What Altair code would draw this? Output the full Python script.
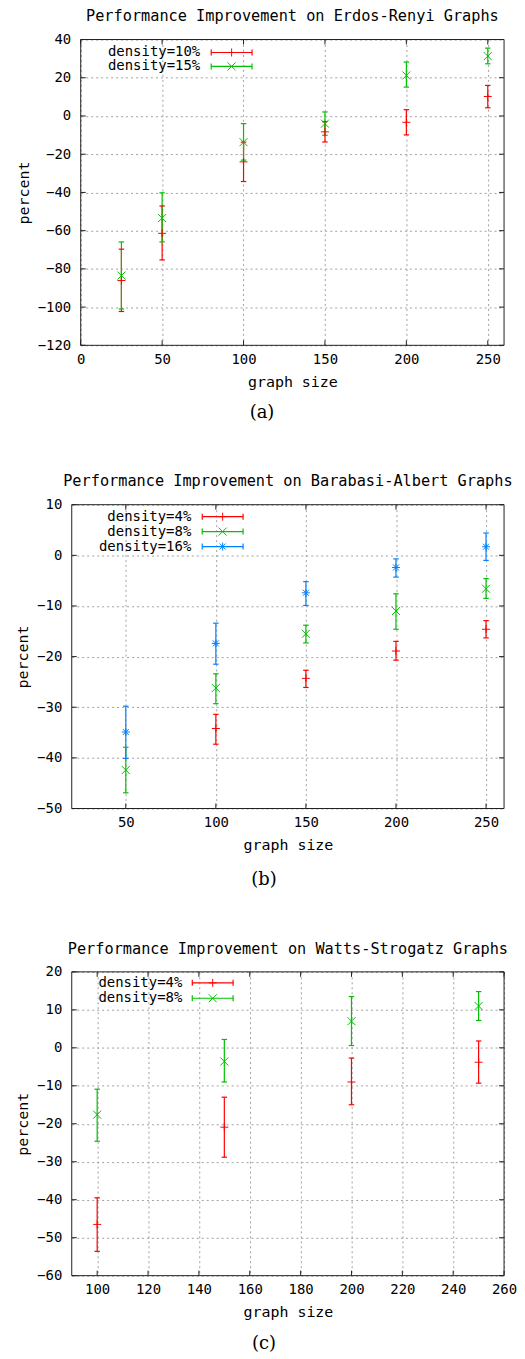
import altair as alt
import pandas as pd

MONO = "DejaVu Sans Mono"
SERIF = "DejaVu Serif"
RED, GREEN, BLUE = "#ff0000", "#00c000", "#0080ff"
INK = "#202020"

PLUS = "M-1,0L1,0M0,-1L0,1"
CROSS = "M-1,-1L1,1M-1,1L1,-1"
STAR = PLUS + "M-0.75,-0.75L0.75,0.75M-0.75,0.75L0.75,-0.75"
CAP = "M-1,0L1,0"

# ---------- (a) Erdos-Renyi ----------
ER_TITLE = "Performance Improvement on Erdos-Renyi Graphs"
ER_SERIES = ["density=10%", "density=15%"]
ER_SIZES = [25, 50, 100, 150, 200, 250]
ER_10_MEAN = [-86.1, -61.4, -24.0, -8.3, -3.3, 10.2]
ER_10_LO = [-102.3, -75.3, -34.3, -13.6, -9.9, 4.3]
ER_10_HI = [-69.7, -47.1, -13.7, -3.0, 3.3, 16.0]
ER_15_MEAN = [-83.5, -53.4, -13.7, -4.0, 21.2, 31.3]
ER_15_LO = [-101.0, -65.9, -23.1, -10.1, 15.1, 27.3]
ER_15_HI = [-65.9, -40.2, -4.0, 2.1, 28.2, 35.5]
ER_XTICKS = [0, 50, 100, 150, 200, 250]
ER_YTICKS = [-120, -100, -80, -60, -40, -20, 0, 20, 40]

# ---------- (b) Barabasi-Albert ----------
BA_TITLE = "Performance Improvement on Barabasi-Albert Graphs"
BA_SERIES = ["density=4%", "density=8%", "density=16%"]
BA_4_SIZES = [100, 150, 200, 250]
BA_4_MEAN = [-34.2, -24.3, -18.9, -14.6]
BA_4_LO = [-37.3, -26.1, -20.7, -16.3]
BA_4_HI = [-31.4, -22.7, -17.0, -12.9]
BA_SIZES = [50, 100, 150, 200, 250]
BA_8_MEAN = [-42.4, -26.2, -15.5, -11.0, -6.6]
BA_8_LO = [-46.9, -29.3, -17.3, -14.6, -8.5]
BA_8_HI = [-37.9, -23.4, -13.8, -7.6, -4.6]
BA_16_MEAN = [-34.9, -17.4, -7.4, -2.4, 1.7]
BA_16_LO = [-40.1, -21.5, -9.9, -4.3, -1.0]
BA_16_HI = [-29.8, -13.4, -5.2, -0.7, 4.4]
BA_XTICKS = [50, 100, 150, 200, 250]
BA_YTICKS = [-50, -40, -30, -20, -10, 0, 10]

# ---------- (c) Watts-Strogatz ----------
WS_TITLE = "Performance Improvement on Watts-Strogatz Graphs"
WS_SERIES = ["density=4%", "density=8%"]
WS_SIZES = [100, 150, 200, 250]
WS_4_MEAN = [-46.5, -20.9, -9.0, -3.8]
WS_4_LO = [-53.6, -28.8, -15.0, -9.3]
WS_4_HI = [-39.5, -13.0, -2.7, 1.8]
WS_8_MEAN = [-17.6, -3.6, 7.0, 11.0]
WS_8_LO = [-24.6, -9.0, 0.6, 7.2]
WS_8_HI = [-10.9, 2.2, 13.5, 14.8]
WS_XTICKS = [100, 120, 140, 160, 180, 200, 220, 240, 260]
WS_YTICKS = [-60, -50, -40, -30, -20, -10, 0, 10, 20]


def frame(series, sizes, means, los, his):
    rows = []
    for s, xs, m, lo, hi in zip(series, sizes, means, los, his):
        for a, b, c, d in zip(xs, m, lo, hi):
            rows.append({"series": s, "size": a, "mean": b, "lo": c, "hi": d})
    return pd.DataFrame(rows)


def panel(title, series, df, colors, shapes, xdom, xticks, ydom, yticks,
          width, height, leg, caption, cap_pos, ytitle_pad, shift=0.0):
    # shift: horizontal inset (px) of the plot frame inside the panel's own area
    xscale = alt.Scale(domain=xdom, nice=False, zero=False, range=[shift, shift + width])
    xaxis = alt.Axis(values=xticks, title="graph size", labelPadding=7,
                     titlePadding=8, format="d", labelOverlap=False, labelFlush=False)
    yscale = alt.Scale(domain=ydom, nice=False, zero=False)
    yaxis = alt.Axis(values=yticks, title="percent", labelPadding=10,
                     titlePadding=ytitle_pad, format="d", labelOverlap=False,
                     labelFlush=False, offset=-shift)
    col = alt.Color("series:N", scale=alt.Scale(domain=series, range=colors), legend=None)
    base = alt.Chart(df).encode(x=alt.X("size:Q", scale=xscale, axis=xaxis), color=col)
    bars = base.mark_rule(strokeWidth=1.2).encode(
        y=alt.Y("lo:Q", scale=yscale, axis=yaxis), y2="hi:Q")
    cap_lo = base.mark_point(shape=CAP, size=30, filled=False, opacity=1,
                             strokeWidth=1.2).encode(y=alt.Y("lo:Q", scale=yscale, axis=yaxis))
    cap_hi = base.mark_point(shape=CAP, size=30, filled=False, opacity=1,
                             strokeWidth=1.2).encode(y=alt.Y("hi:Q", scale=yscale, axis=yaxis))
    pts = base.mark_point(size=64, filled=False, opacity=1, strokeWidth=1).encode(
        y=alt.Y("mean:Q", scale=yscale, axis=yaxis),
        shape=alt.Shape("series:N", scale=alt.Scale(domain=series, range=shapes), legend=None))

    capdf = pd.DataFrame({"caption": [caption]})
    border = alt.Chart(capdf).mark_rect(filled=False, stroke=INK, strokeWidth=1).encode(
        x=alt.value(shift), x2=alt.value(shift + width), y=alt.value(0), y2=alt.value(height))

    # gnuplot-style inward tick marks on all four sides of the frame
    ydf = pd.DataFrame({"v": yticks})
    xdf = pd.DataFrame({"v": xticks})
    yt = alt.Chart(ydf)
    xt = alt.Chart(xdf)
    ticks = [
        yt.mark_rule(color=INK).encode(y=alt.Y("v:Q", scale=yscale, axis=yaxis),
                                       x=alt.value(shift), x2=alt.value(shift + 5)),
        yt.mark_rule(color=INK).encode(y=alt.Y("v:Q", scale=yscale, axis=yaxis),
                                       x=alt.value(shift + width - 5),
                                       x2=alt.value(shift + width)),
        xt.mark_rule(color=INK).encode(x=alt.X("v:Q", scale=xscale, axis=xaxis),
                                       y=alt.value(height - 5), y2=alt.value(height)),
        xt.mark_rule(color=INK).encode(x=alt.X("v:Q", scale=xscale, axis=xaxis),
                                       y=alt.value(0), y2=alt.value(5)),
    ]
    layers = [border] + ticks + [bars, cap_lo, cap_hi, pts]

    ld = pd.DataFrame({"series": series, "label": series})
    tx, l0, l1, y0, dy = leg
    tx, l0, l1 = tx + shift, l0 + shift, l1 + shift
    for i, (s, c, sh) in enumerate(zip(series, colors, shapes)):
        ry = y0 + i * dy
        src = alt.Chart(ld).transform_filter(alt.datum.series == s)
        layers.append(src.mark_text(align="right", baseline="middle", font=MONO,
                                    fontSize=14, color="black").encode(
            x=alt.value(tx), y=alt.value(ry), text="label:N"))
        layers.append(src.mark_rule(color=c, strokeWidth=1.2).encode(
            x=alt.value(l0), x2=alt.value(l1), y=alt.value(ry)))
        for lx in (l0, l1):
            layers.append(src.mark_rule(color=c, strokeWidth=1.2).encode(
                x=alt.value(lx), y=alt.value(ry - 3), y2=alt.value(ry + 3)))
        layers.append(src.mark_point(shape=sh, size=64, filled=False, opacity=1,
                                     color=c, strokeWidth=1).encode(
            x=alt.value((l0 + l1) / 2), y=alt.value(ry)))

    layers.append(alt.Chart(capdf).mark_text(font=SERIF, fontSize=18, color="black",
                                             baseline="middle").encode(
        x=alt.value(cap_pos[0]), y=alt.value(cap_pos[1]), text="caption:N"))

    return alt.layer(*layers).properties(
        width=width, height=height,
        title=alt.TitleParams(title, font=MONO, fontSize=15.3, fontWeight="normal",
                              color="black", anchor="middle", offset=8, dx=shift))


dfa = frame(ER_SERIES, [ER_SIZES, ER_SIZES], [ER_10_MEAN, ER_15_MEAN],
            [ER_10_LO, ER_15_LO], [ER_10_HI, ER_15_HI])
dfb = frame(BA_SERIES, [BA_4_SIZES, BA_SIZES, BA_SIZES],
            [BA_4_MEAN, BA_8_MEAN, BA_16_MEAN],
            [BA_4_LO, BA_8_LO, BA_16_LO], [BA_4_HI, BA_8_HI, BA_16_HI])
dfc = frame(WS_SERIES, [WS_SIZES, WS_SIZES], [WS_4_MEAN, WS_8_MEAN],
            [WS_4_LO, WS_8_LO], [WS_4_HI, WS_8_HI])

pa = panel(ER_TITLE, ER_SERIES, dfa, [RED, GREEN], [PLUS, CROSS], [0, 260], ER_XTICKS,
           [-120, 40], ER_YTICKS, 425, 307, (120, 131, 172, 13, 14), "(a)",
           (191, 375), 6, shift=9)
pb = panel(BA_TITLE, BA_SERIES, dfb, [RED, GREEN, BLUE], [PLUS, CROSS, STAR], [20, 260],
           BA_XTICKS, [-50, 10], BA_YTICKS, 434, 305, (120, 131, 172, 12, 15), "(b)",
           (193, 377), 6)
pc = panel(WS_TITLE, WS_SERIES, dfc, [RED, GREEN], [PLUS, CROSS], [90, 260], WS_XTICKS,
           [-60, 20], WS_YTICKS, 434, 305, (111, 121, 162, 11, 15.5), "(c)",
           (193, 374), 6)

chart = alt.concat(pa, pb, pc, columns=1, spacing=52).resolve_scale(
    color="independent", shape="independent"
).configure_view(
    stroke="transparent", strokeWidth=0
).configure_axis(
    grid=True, gridDash=[2, 3], gridColor="#a0a0a0", gridWidth=1,
    domain=False, ticks=False,
    labelFont=MONO, labelFontSize=14, labelColor="black",
    titleFont=MONO, titleFontSize=15, titleFontWeight="normal", titleColor="black"
).properties(padding={"left": 7, "top": -2, "right": 0, "bottom": 0})

chart.save("out.html", embed_options={"renderer": "svg", "actions": False})
